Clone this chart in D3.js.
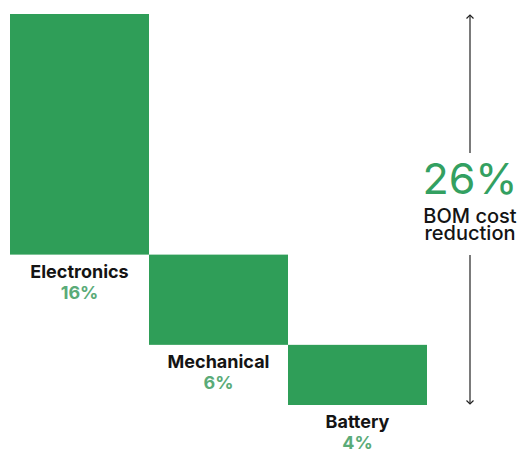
<!DOCTYPE html>
<html>
<head>
<meta charset="utf-8">
<script src="https://cdn.jsdelivr.net/npm/d3@7"></script>
<style>
  html, body { margin: 0; padding: 0; background: #fff; }
  svg { display: block; font-family: Inter, "Noto Sans", sans-serif; }
</style>
</head>
<body>
<div id="chart"></div>
<script>
const categories = ["Electronics", "Mechanical", "Battery"];
const values = [16, 6, 4];
const valueLabels = ["16%", "6%", "4%"];
const totalLabel = "26%";
const totalText = ["BOM cost", "reduction"];

(function() {
    const width = 527, height = 452;
    const barColor = "#2f9e58";
    const pctColor = "#5aab78";

    const svg = d3.select("#chart").append("svg")
        .attr("width", width)
        .attr("height", height);

    const total = d3.sum(values);
    const top = 14;

    // stacked waterfall: each bar starts where the previous ended
    let acc = 0;
    const steps = categories.map((c, i) => {
        const s = { name: c, value: values[i], label: valueLabels[i], start: acc };
        acc += values[i];
        s.end = acc;
        return s;
    });

    const x = d3.scaleBand().domain(categories).range([10, 427]).padding(0);
    const y = d3.scaleLinear().domain([0, total]).range([top, 405]);

    svg.append("g").selectAll("rect")
        .data(steps).join("rect")
        .attr("x", d => x(d.name))
        .attr("y", d => y(d.start))
        .attr("width", x.bandwidth())
        .attr("height", d => y(d.end) - y(d.start))
        .attr("fill", barColor);

    const labels = svg.append("g").selectAll("g")
        .data(steps).join("g")
        .attr("transform", d => `translate(${x(d.name) + x.bandwidth() / 2},${y(d.end)})`);

    labels.append("text")
        .attr("y", 23)
        .attr("text-anchor", "middle")
        .attr("font-size", 18)
        .attr("font-weight", 700)
        .attr("fill", "#141414")
        .text(d => d.name);

    labels.append("text")
        .attr("y", 44)
        .attr("text-anchor", "middle")
        .attr("font-size", 18)
        .attr("font-weight", 700)
        .attr("fill", pctColor)
        .text(d => d.label);

    // total arrow on the right
    const ax = 470;
    const line = svg.append("g").attr("stroke", "#222").attr("stroke-width", 1.2).attr("fill", "none");
    line.append("line").attr("x1", ax).attr("x2", ax).attr("y1", y(0) + 1).attr("y2", 153);
    line.append("line").attr("x1", ax).attr("x2", ax).attr("y1", 255).attr("y2", y(total) - 1);
    line.append("path").attr("d", `M${ax - 3.5},${y(0) + 4.5}L${ax},${y(0) + 1}L${ax + 3.5},${y(0) + 4.5}`);
    line.append("path").attr("d", `M${ax - 3.5},${y(total) - 4.5}L${ax},${y(total) - 1}L${ax + 3.5},${y(total) - 4.5}`);

    svg.append("text")
        .attr("x", ax).attr("y", 194)
        .attr("text-anchor", "middle")
        .attr("font-size", 43)
        .attr("font-weight", 400)
        .attr("fill", "#33a061")
        .text(totalLabel);

    svg.append("g").selectAll("text")
        .data(totalText).join("text")
        .attr("x", ax)
        .attr("y", (d, i) => 223 + i * 17)
        .attr("text-anchor", "middle")
        .attr("font-size", 20)
        .attr("font-weight", 500)
        .attr("fill", "#141414")
        .text(d => d);
})();
</script>
</body>
</html>
